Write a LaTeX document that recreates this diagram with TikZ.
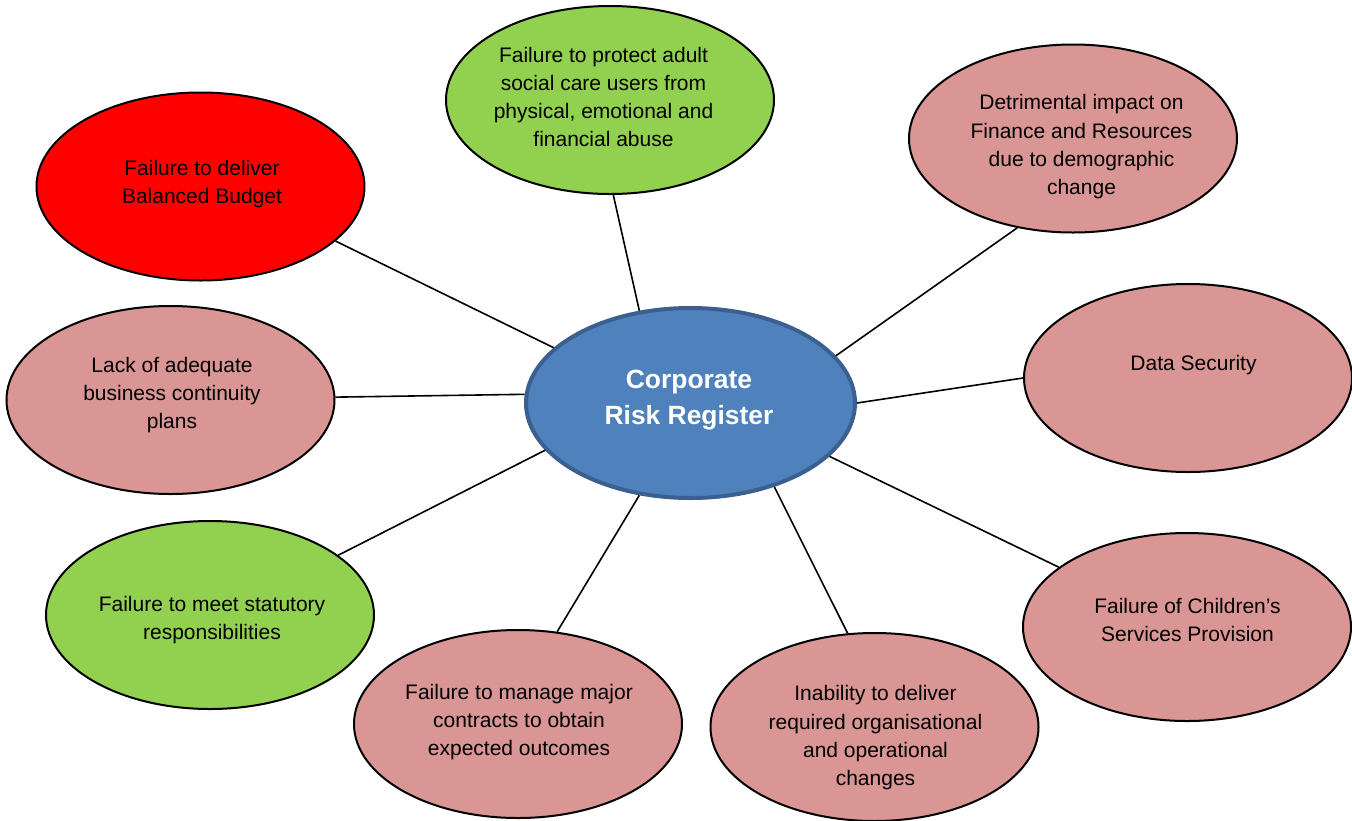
\documentclass[tikz,border=0pt]{standalone}
\usepackage{fontspec}
\setmainfont{Liberation Sans}
\usetikzlibrary{shapes.geometric}
\definecolor{riskred}{HTML}{FF0000}
\definecolor{riskgreen}{HTML}{92D050}
\definecolor{riskpink}{HTML}{D99694}
\definecolor{hubfill}{HTML}{4F81BD}
\definecolor{hubline}{HTML}{3B5F8E}
\tikzset{
  bubble/.style={ellipse, draw=black, line width=2pt, minimum width=328pt, minimum height=188pt, inner sep=0pt},
  hub/.style={ellipse, draw=hubline, fill=hubfill, line width=4pt, minimum width=329pt, minimum height=190pt, inner sep=0pt},
  btext/.style={align=center, inner sep=0pt, text=black, font=\fontsize{21}{28.3}\selectfont},
  htext/.style={align=center, inner sep=0pt, text=white, font=\bfseries\fontsize{26.4}{36}\selectfont},
  link/.style={draw=black, line width=1.6pt}
}
\begin{document}
\begin{tikzpicture}[x=1pt,y=-1pt]
\useasboundingbox (0,0) rectangle (1352,820);
% hub
\node[hub] (hub) at (690.5,403) {};
% outer bubbles
\node[bubble, fill=riskred]   (budget)   at (200.5,186.5) {};
\node[bubble, fill=riskgreen] (adult)    at (610,100) {};
\node[bubble, fill=riskpink]  (demo)     at (1073,138.5) {};
\node[bubble, fill=riskpink]  (cont)     at (170.5,400) {};
\node[bubble, fill=riskpink]  (data)     at (1188,378) {};
\node[bubble, fill=riskgreen] (stat)     at (210,615) {};
\node[bubble, fill=riskpink]  (contract) at (518,724) {};
\node[bubble, fill=riskpink]  (change)   at (874.5,727) {};
\node[bubble, fill=riskpink]  (child)    at (1187,627) {};
% texts
\node[htext] (thub) at (689,400) {Corporate\\Risk Register};
\node[btext] (tbudget) at (202,184) {Failure to deliver\\Balanced Budget};
\node[btext] (tadult) at (603.5,97) {Failure to protect adult\\social care users from\\physical, emotional and\\financial abuse};
\node[btext] (tdemo) at (1081.5,147) {Detrimental impact on\\Finance and Resources\\due to demographic\\change};
\node[btext] (tcont) at (172,395) {Lack of adequate\\business continuity\\plans};
\node[btext] (tdata) at (1193.5,365) {Data Security};
\node[btext] (tstat) at (212,620) {Failure to meet statutory\\responsibilities};
\node[btext] (tcontract) at (519,722) {Failure to manage major\\contracts to obtain\\expected outcomes};
\node[btext] (tchange) at (875.5,738) {Inability to deliver\\required organisational\\and operational\\changes};
\node[btext] (tchild) at (1187.5,620) {Failure of Children’s\\Services Provision};
% connectors
\draw[link] (hub.158.6) -- (budget.-22.8);
\draw[link] (hub.119.4) -- (adult.-88.8);
\draw[link] (hub.18.3) -- (demo.-122.8);
\draw[link] (hub.177.5) -- (cont.1.4);
\draw[link] (hub.0) -- (data.180);
\draw[link] (hub.-162.8) -- (stat.25.5);
\draw[link] (hub.-119.1) -- (contract.67.5);
\draw[link] (hub.-45.2) -- (change.106.7);
\draw[link] (hub.-21.3) -- (child.155.9);
\end{tikzpicture}
\end{document}
